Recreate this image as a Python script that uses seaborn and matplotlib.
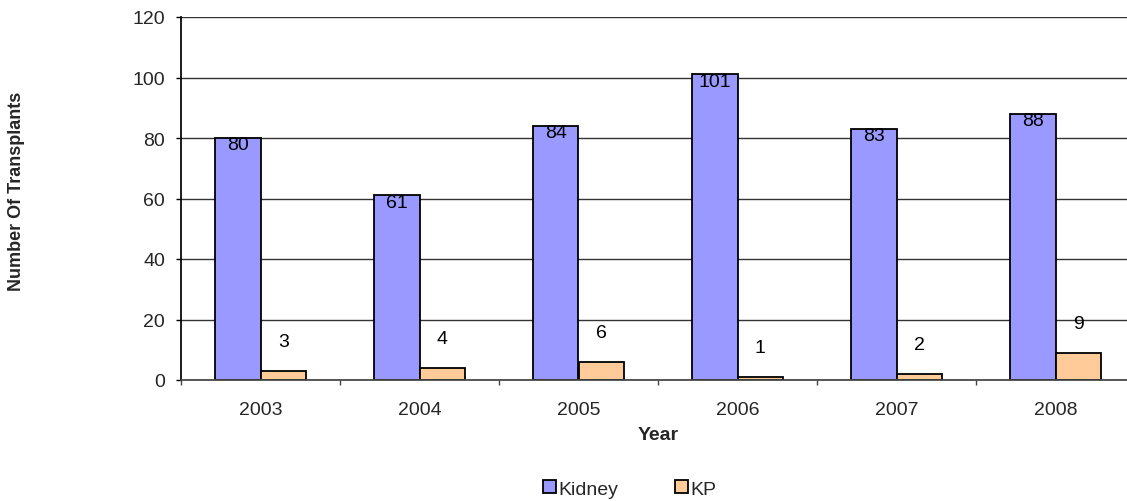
import numpy as np
import pandas as pd
import matplotlib
matplotlib.use('Agg')
import matplotlib.pyplot as plt
import seaborn as sns

# Data
years = ['2003', '2004', '2005', '2006', '2007', '2008']
kidney = [80, 61, 84, 101, 83, 88]
kp = [3, 4, 6, 1, 2, 9]

df = pd.DataFrame({
    'Year': years * 2,
    'Count': kidney + kp,
    'Type': ['Kidney'] * len(years) + ['KP'] * len(years),
})

sns.set_theme(style='white')
plt.rcParams['font.family'] = ['Liberation Sans', 'DejaVu Sans']

fig = plt.figure(figsize=(11.27, 5.02), dpi=100)
ax = fig.add_axes([181 / 1127, 121 / 502, 954 / 1127, 363 / 502])

sns.barplot(data=df, x='Year', y='Count', hue='Type',
            palette={'Kidney': '#9999FF', 'KP': '#FFCC99'},
            width=0.575, gap=0, edgecolor='black', linewidth=1.3,
            saturation=1, ax=ax, legend=True)

# Data labels
ax.bar_label(ax.containers[0], padding=-11, fontsize=14, color='black')
ax.bar_label(ax.containers[1], padding=15, fontsize=14, color='black')

ax.set_ylim(0, 120)
ax.set_xlim(-0.5, 5.5)
ax.set_yticks(np.arange(0, 121, 20))
ax.yaxis.grid(True, color='#333333', linewidth=1)
ax.set_axisbelow(True)

for side in ['top', 'right']:
    ax.spines[side].set_visible(False)
ax.spines['left'].set_color('black')
ax.spines['bottom'].set_color('#444444')

ax.tick_params(axis='y', which='major', direction='out', length=3.6,
               width=1, color='black', pad=8, labelsize=14, left=True)
ax.set_xticks(np.arange(-0.5, 6, 1), minor=True)
ax.tick_params(axis='x', which='minor', direction='out', length=3.6,
               width=1, color='#444444', bottom=True)
ax.tick_params(axis='x', which='major', length=0, pad=15, labelsize=14)

ax.set_xlabel('Year', fontsize=14, fontweight='bold', labelpad=6)
ax.set_ylabel('')
fig.text(17 / 1127, 1 - 191 / 502, 'Number Of Transplants', rotation=90,
         ha='center', va='center', fontsize=13, fontweight='bold')

handles, labels = ax.get_legend_handles_labels()
ax.get_legend().remove()
fig.legend(handles, labels, loc='center', bbox_to_anchor=(630 / 1127, 1 - 490 / 502),
           ncol=2, frameon=False, fontsize=14, handlelength=0.65, handleheight=0.65,
           handletextpad=0.15, columnspacing=2.9, borderaxespad=0)

fig.savefig('out.png', dpi=100)
